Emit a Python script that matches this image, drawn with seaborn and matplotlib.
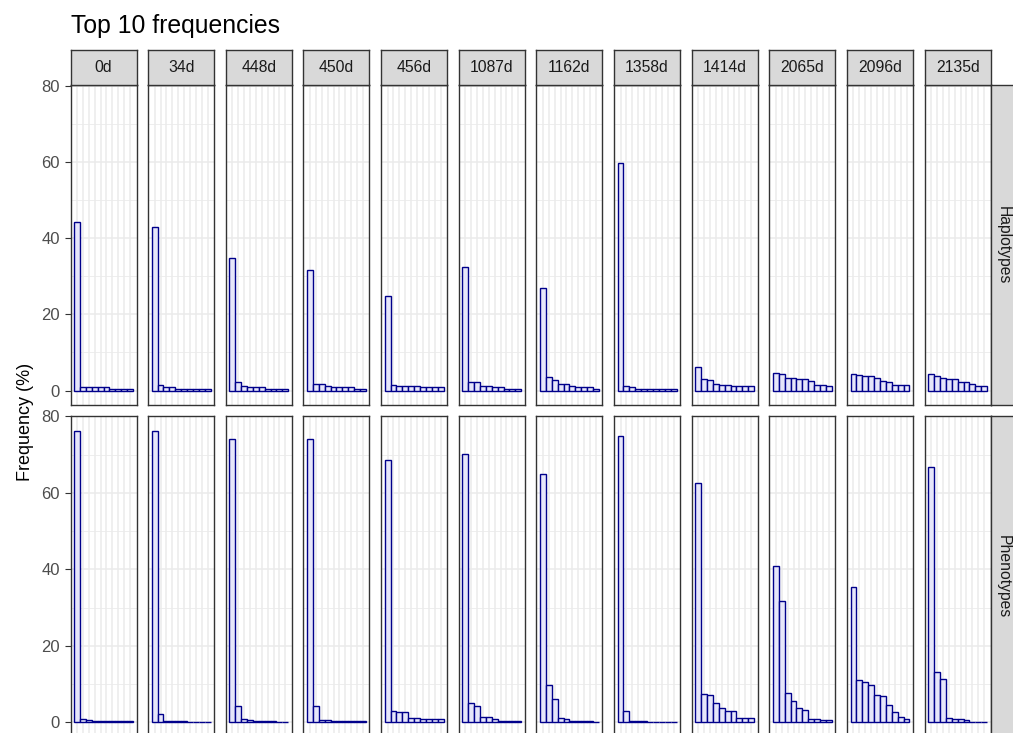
import matplotlib
matplotlib.use("Agg")
import matplotlib.pyplot as plt
import seaborn as sns
import pandas as pd
import numpy as np

sns.set_style("white")
plt.rcParams['font.family'] = ['Liberation Sans', 'DejaVu Sans']

# ---------------- data ----------------
timepoints = ["0d", "34d", "448d", "450d", "456d", "1087d", "1162d",
              "1358d", "1414d", "2065d", "2096d", "2135d"]
ranks = list(range(1, 11))
row_labels = ["Haplotypes", "Phenotypes"]

haplotypes = {
    "0d":    [44.3, 0.8, 0.8, 0.8, 0.8, 0.8, 0.5, 0.5, 0.5, 0.5],
    "34d":   [43.0, 1.5, 0.8, 0.8, 0.5, 0.5, 0.5, 0.5, 0.5, 0.5],
    "448d":  [34.7, 2.2, 1.1, 0.8, 0.8, 0.8, 0.5, 0.5, 0.5, 0.5],
    "450d":  [31.7, 1.8, 1.8, 1.1, 0.8, 0.8, 0.8, 0.8, 0.5, 0.5],
    "456d":  [24.8, 1.5, 1.1, 1.1, 1.1, 1.1, 0.8, 0.8, 0.8, 0.8],
    "1087d": [32.5, 2.2, 2.2, 1.1, 1.1, 0.8, 0.8, 0.5, 0.5, 0.5],
    "1162d": [26.8, 3.6, 2.7, 1.8, 1.8, 1.1, 0.8, 0.8, 0.8, 0.5],
    "1358d": [59.8, 1.1, 0.8, 0.5, 0.5, 0.5, 0.5, 0.5, 0.5, 0.5],
    "1414d": [6.1, 3.1, 2.8, 1.8, 1.5, 1.5, 1.1, 1.1, 1.1, 1.1],
    "2065d": [4.6, 4.4, 3.4, 3.4, 3.1, 3.1, 2.4, 1.5, 1.5, 1.1],
    "2096d": [4.4, 4.0, 3.7, 3.7, 3.4, 2.4, 2.2, 1.5, 1.5, 1.5],
    "2135d": [4.4, 3.7, 3.4, 3.1, 3.1, 2.2, 2.2, 1.8, 1.1, 1.1],
}
phenotypes = {
    "0d":    [76.1, 1.0, 0.6, 0.35, 0.35, 0.35, 0.35, 0.35, 0.35, 0.35],
    "34d":   [76.1, 2.1, 0.35, 0.35, 0.35, 0.35, 0.1, 0.1, 0.1, 0.1],
    "448d":  [74.2, 4.2, 1.0, 0.6, 0.35, 0.35, 0.35, 0.35, 0.15, 0.15],
    "450d":  [74.2, 4.2, 0.7, 0.7, 0.35, 0.35, 0.35, 0.35, 0.35, 0.35],
    "456d":  [68.5, 3.0, 2.7, 2.7, 1.1, 1.1, 0.8, 0.8, 0.8, 0.8],
    "1087d": [70.1, 5.2, 4.3, 1.5, 1.5, 0.8, 0.5, 0.5, 0.5, 0.5],
    "1162d": [64.9, 9.8, 6.1, 1.1, 0.8, 0.5, 0.5, 0.5, 0.5, 0.2],
    "1358d": [75.0, 3.0, 0.5, 0.5, 0.5, 0.2, 0.2, 0.2, 0.2, 0.2],
    "1414d": [62.5, 7.4, 7.1, 5.0, 3.7, 3.0, 3.0, 1.2, 1.2, 1.2],
    "2065d": [41.0, 31.7, 7.7, 5.5, 3.7, 3.3, 0.9, 0.9, 0.6, 0.6],
    "2096d": [35.4, 11.1, 10.5, 9.9, 7.1, 6.8, 4.6, 2.8, 1.5, 0.9],
    "2135d": [66.7, 13.2, 11.4, 1.2, 0.9, 0.9, 0.6, 0.2, 0.2, 0.2],
}

title = "Top 10 frequencies"
y_label = "Frequency (%)"
y_ticks = [0, 20, 40, 60, 80]

records = []
for rl, src in zip(row_labels, [haplotypes, phenotypes]):
    for tp in timepoints:
        for r, v in zip(ranks, src[tp]):
            records.append({"type": rl, "time": tp, "rank": r, "freq": v})
df = pd.DataFrame(records)

# ---------------- layout ----------------
W, H = 1013, 733
fig = plt.figure(figsize=(W / 100, H / 100), dpi=100)

def box(x0, y0, x1, y1):
    return [x0 / W, 1 - y1 / H, (x1 - x0) / W, (y1 - y0) / H]

left0, step, pw = 70.5, 77.65, 66.0
rows_y = [(85.0, 405.0), (415.7, 737.0)]
border = "#333333"
grid_c = "#ebebeb"

for ri, rl in enumerate(row_labels):
    ytop, ybot = rows_y[ri]
    for ci, tp in enumerate(timepoints):
        x0 = left0 + ci * step
        ax = fig.add_axes(box(x0, ytop, x0 + pw, ybot))
        sub = df[(df["type"] == rl) & (df["time"] == tp)]
        sns.barplot(data=sub, x="rank", y="freq", order=ranks, ax=ax,
                    color="lavender", edgecolor="darkblue", linewidth=1.0,
                    saturation=1, width=1.0, errorbar=None)
        ax.set_xlim(-1.1, 10.1)
        ax.set_ylim(-3.8, 80.2)
        ax.set_yticks(y_ticks)
        ax.set_yticks([10, 30, 50, 70], minor=True)
        ax.set_xticks(range(10))
        ax.set_axisbelow(True)
        ax.grid(which="major", color=grid_c, lw=1.1)
        ax.grid(which="minor", axis="y", color=grid_c, lw=0.6)
        ax.set_xlabel("")
        ax.set_ylabel("")
        ax.set_xticklabels([])
        ax.tick_params(axis="x", which="both", bottom=False, length=0)
        ax.tick_params(axis="y", which="minor", left=False, length=0)
        if ci == 0:
            ax.tick_params(axis="y", which="major", left=True, length=4.1,
                           width=0.8, color=border, labelsize=12,
                           labelcolor="#4d4d4d", pad=3.4)
        else:
            ax.tick_params(axis="y", which="major", left=False, length=0)
            ax.set_yticklabels([])
        for s in ax.spines.values():
            s.set_color(border)
            s.set_linewidth(1.0)

        # top strips
        if ri == 0:
            sax = fig.add_axes(box(x0, 50.0, x0 + pw, 85.0))
            sax.set_facecolor("#d9d9d9")
            sax.set_xticks([]); sax.set_yticks([])
            for s in sax.spines.values():
                s.set_color(border); s.set_linewidth(1.0)
            sax.text(0.5, 0.5, tp, ha="center", va="center", fontsize=11.3,
                     color="#1a1a1a", transform=sax.transAxes)

    # right strips
    xr0 = left0 + 11 * step + pw
    rax = fig.add_axes(box(xr0, ytop, xr0 + 30.0, ybot))
    rax.set_facecolor("#d9d9d9")
    rax.set_xticks([]); rax.set_yticks([])
    for s in rax.spines.values():
        s.set_color(border); s.set_linewidth(1.0)
    rax.text((1003.5 - xr0) / 30.0, 0.5, rl, ha="center", va="center",
             rotation=-90, fontsize=11.3, color="#1a1a1a",
             transform=rax.transAxes)

fig.text(70.5 / W, 1 - 33.5 / H, title, ha="left", va="baseline",
         fontsize=17.8, color="black")
fig.text(26.0 / W, 1 - 422.0 / H, y_label, ha="center", va="center",
         rotation=90, fontsize=13, color="black")

fig.savefig("out.png", dpi=100)
